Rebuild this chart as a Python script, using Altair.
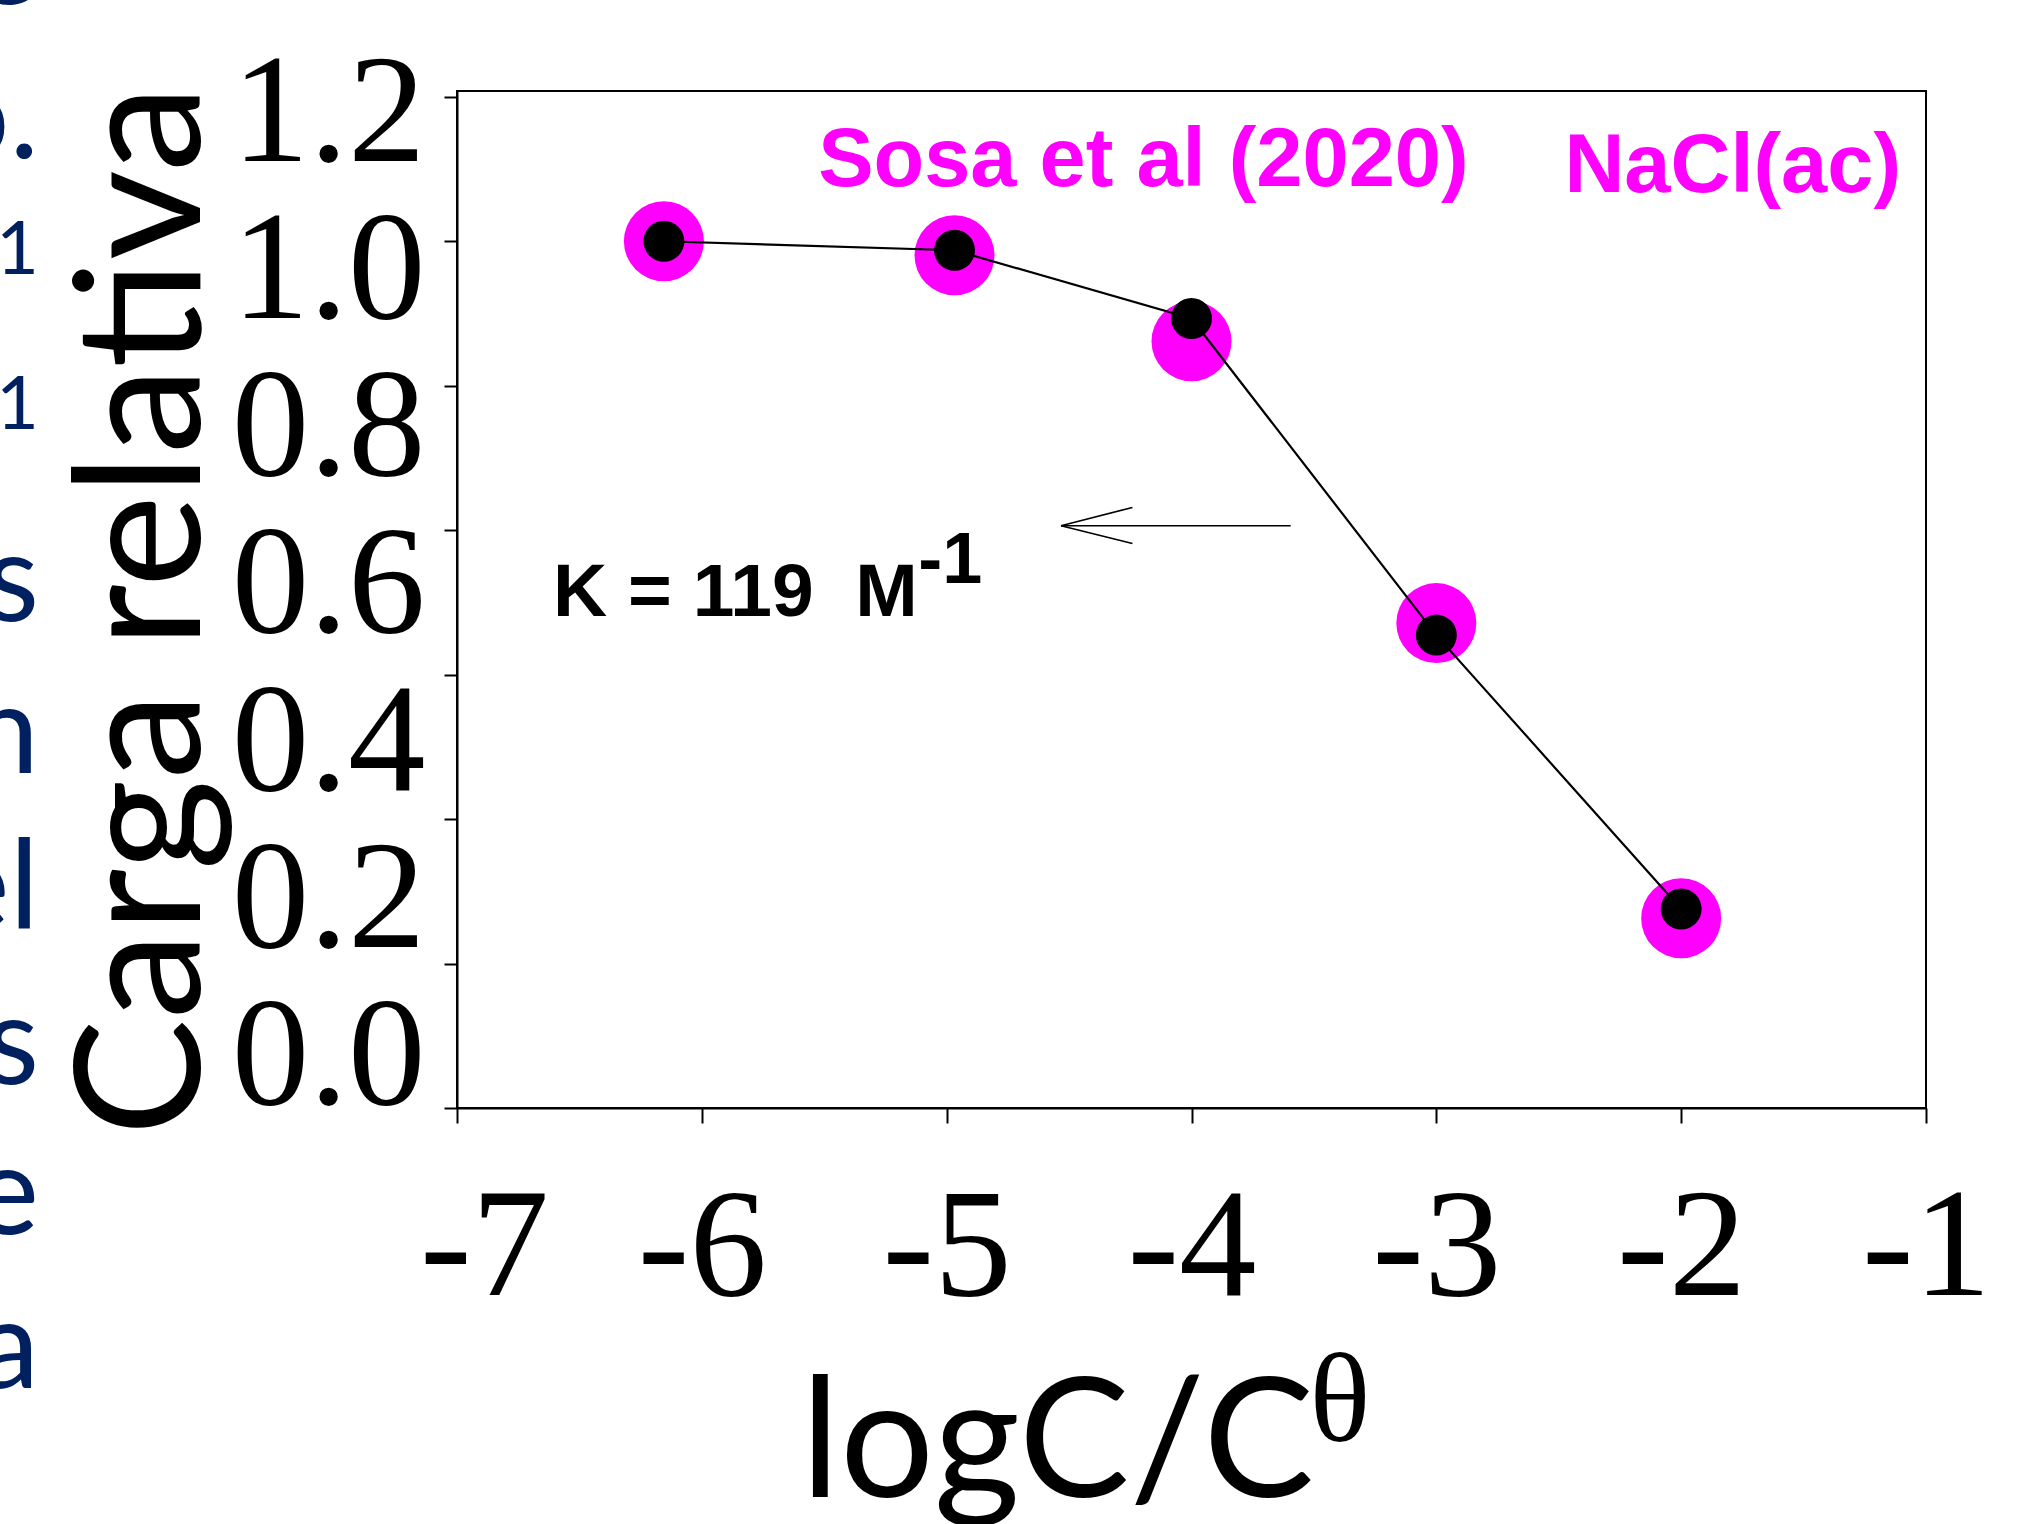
import altair as alt
import pandas as pd

# ---- data ----
log_c = [-6.155, -4.968, -4.0, -3.0, -2.0]
carga_modelo = [1.000, 0.9875, 0.893, 0.4547, 0.0755]   # black points + line
carga_sosa = [1.000, 0.9805, 0.8615, 0.4713, 0.0626]    # magenta points

x_ticks = [-7, -6, -5, -4, -3, -2, -1]
y_ticks = [-0.2, 0.0, 0.2, 0.4, 0.6, 0.8, 1.0, 1.2]
y_labels = [0.0, 0.2, 0.4, 0.6, 0.8, 1.0, 1.2]

x_title = "logC/C"
x_title_sup = ["θ"]
y_title = "Carga relativa"

legend_texts = ["Sosa et al (2020)", "NaCl(ac)"]
legend_x = [-5.525, -2.477]
legend_y = [1.0758, 1.0675]
legend_size = [83, 83]

k_texts = ["K = 119\u00a0 M", "-1"]
k_x = [-6.6078, -5.1164]
k_y = [0.4814, 0.5262]
k_size = [75, 72]

theta_x = [-3.394]
theta_y = [-0.6616]

arrow_x = [-4.533, -4.533, -4.533]
arrow_x2 = [-3.5949, -4.2413, -4.2413]
arrow_y = [0.6061, 0.6061, 0.6061]
arrow_y2 = [0.6061, 0.6315, 0.5816]

frag_texts = ["e", "o.", "1", "1", "s", "n", "el", "s", "e", "a"]
frag_y = [1.328, 1.1146, 0.9553, 0.7405, 0.4745, 0.2639, 0.0492, -0.1669, -0.3747, -0.5881]
frag_size = [125, 125, 74, 74, 125, 125, 125, 125, 125, 125]

# ---- tables ----
df_mod = pd.DataFrame({"x": log_c, "y": carga_modelo})
df_sosa = pd.DataFrame({"x": log_c, "y": carga_sosa})
df_leg = pd.DataFrame({"t": legend_texts, "x": legend_x, "y": legend_y, "s": legend_size})
df_k = pd.DataFrame({"t": k_texts, "x": k_x, "y": k_y, "s": k_size})
df_theta = pd.DataFrame({"t": x_title_sup, "x": theta_x, "y": theta_y})
df_arrow = pd.DataFrame({"x": arrow_x, "x2": arrow_x2, "y": arrow_y, "y2": arrow_y2})
df_frag = pd.DataFrame({"t": frag_texts, "y": frag_y, "s": frag_size})
df_lab = pd.DataFrame({"lab": y_labels})

x_scale = alt.Scale(domain=[-7, -1], nice=False, zero=False)
y_scale = alt.Scale(domain=[-0.2, 1.208], nice=False, zero=False)

x_axis = alt.Axis(
    values=x_ticks,
    labelExpr="replace(datum.label, '\u2212', '-')",
    labelFont="Liberation Serif", labelFontSize=155, labelColor="black",
    labelPadding=49, labelFlush=False, labelOverlap=False, labelLimit=400,
    labelOffset={"condition": {"test": "datum.value == -7", "value": 27}, "value": 0},
    tickSize=15, tickWidth=2, tickColor="black",
    domainColor="black", domainWidth=2, grid=False,
    title=x_title, titleFont="Lato", titleFontSize=166, titleFontWeight="normal",
    titleColor="black", titleX=600, titleY=388, titleAlign="center",
    titleBaseline="alphabetic", titleLimit=2000,
)
y_axis = alt.Axis(
    values=y_ticks, labels=False,
    tickSize=13, tickWidth=2, tickColor="black",
    domainColor="black", domainWidth=2, grid=False,
    title=y_title, titleFont="Lato", titleFontSize=175, titleFontWeight="normal",
    titleColor="black", titleAngle=270, titleX=-258, titleY=519,
    titleAlign="center", titleBaseline="alphabetic", titleLimit=2000,
)


def X(field="x"):
    return alt.X(f"{field}:Q", scale=x_scale, axis=x_axis)


def Y(field="y"):
    return alt.Y(f"{field}:Q", scale=y_scale, axis=y_axis)


magenta = alt.Chart(df_sosa).mark_circle(size=6400, color="#FF00FF", opacity=1).encode(x=X(), y=Y())
line = alt.Chart(df_mod).mark_line(color="black", strokeWidth=2.2).encode(x=X(), y=Y())
black = alt.Chart(df_mod).mark_circle(size=1680, color="black", opacity=1).encode(x=X(), y=Y())

arrow = alt.Chart(df_arrow).mark_rule(color="black", strokeWidth=1.6).encode(
    x=X(), y=Y(), x2="x2:Q", y2="y2:Q")

leg = alt.Chart(df_leg).mark_text(
    font="Liberation Sans", fontWeight="bold", color="#FF00FF",
    align="left", baseline="alphabetic").encode(
    x=X(), y=Y(), text="t:N", size=alt.Size("s:Q", scale=None, legend=None))

ktext = alt.Chart(df_k).mark_text(
    font="Liberation Sans", fontWeight="bold", color="black",
    align="left", baseline="alphabetic").encode(
    x=X(), y=Y(), text="t:N", size=alt.Size("s:Q", scale=None, legend=None))

theta = alt.Chart(df_theta).mark_text(
    font="Liberation Serif", fontSize=127, color="black",
    align="center", baseline="alphabetic").encode(x=X(), y=Y(), text="t:N")

frag = alt.Chart(df_frag).mark_text(
    font="Lato", color="#002060", align="right", baseline="alphabetic").encode(
    x=alt.value(-418), y=Y(), text="t:N", size=alt.Size("s:Q", scale=None, legend=None))

main = alt.layer(magenta, line, black, arrow, leg, ktext, theta, frag)

label_layer = alt.Chart(df_lab).mark_point(opacity=0).encode(
    y=alt.Y("lab:Q",
            scale=alt.Scale(domain=[-0.0727, 1.2205], nice=False, zero=False),
            axis=alt.Axis(orient="left", values=y_labels, format=".1f",
                          ticks=False, tickSize=0, domain=False, grid=False,
                          labelFont="Liberation Serif", labelFontSize=155,
                          labelColor="black", labelPadding=32, labelAlign="right",
                          labelBaseline="middle", labelOffset=6, labelOverlap=False,
                          labelLimit=600, title=None))
)

chart = alt.layer(main, label_layer).resolve_scale(y="independent").properties(
    width=1469, height=1017,
    autosize=alt.AutoSizeParams(type="none"),
    padding={"left": 457, "top": 91, "right": 98, "bottom": 416},
    background="white",
).configure_view(stroke="black", strokeWidth=2)

chart.save("out.html", embed_options={"renderer": "svg", "actions": False})
